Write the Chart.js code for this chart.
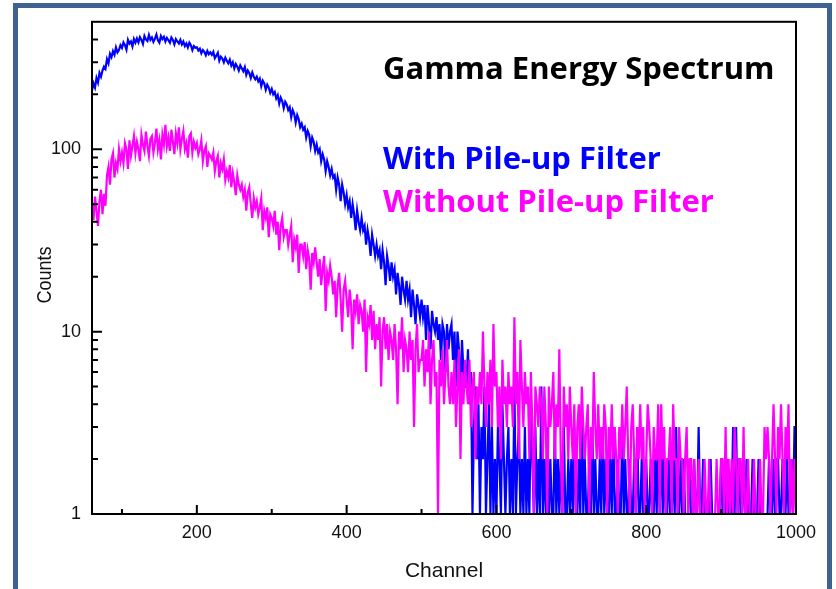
<!DOCTYPE html>
<html>
<head>
<meta charset="utf-8">
<script src="https://cdn.jsdelivr.net/npm/chart.js@4/dist/chart.umd.min.js"></script>
<style>
  html, body { margin: 0; padding: 0; background: #fff; }
  #wrap { position: relative; width: 836px; height: 589px; overflow: hidden; }
  #frame { position: absolute; left: 13px; top: 3px; width: 809px; height: 700px; border: 5px solid #3f6390; box-sizing: content-box; }
  #chart { position: absolute; left: 0; top: 0; }
</style>
</head>
<body>
<div id="wrap">
  <div id="frame"></div>
  <canvas id="chart" width="836" height="589"></canvas>
</div>
<script>
const chartTitle = 'Gamma Energy Spectrum';
const seriesNames = ['With Pile-up Filter', 'Without Pile-up Filter'];
const xTitle = 'Channel';
const yTitle = 'Counts';
const firstChannel = 60;
const channelStep = 2;

const withFilter = [
  210, 230, 218, 246, 232, 262, 250, 270, 284, 276,
  312, 296, 334, 320, 345, 330, 362, 340, 350, 372,
  360, 385, 372, 352, 398, 380, 390, 366, 402, 384,
  405, 386, 412, 398, 378, 418, 400, 392, 424, 398,
  410, 388, 404, 426, 396, 384, 418, 402, 414, 390,
  408, 396, 384, 410, 398, 376, 402, 390, 380, 398,
  376, 390, 368, 380, 362, 384, 372, 350, 368, 360,
  362, 348, 356, 336, 350, 342, 328, 346, 332, 340,
  330, 342, 316, 326, 338, 306, 322, 314, 300, 318,
  306, 296, 310, 288, 300, 278, 294, 284, 270, 288,
  278, 268, 282, 256, 270, 262, 246, 264, 250, 242,
  250, 236, 244, 222, 238, 230, 212, 226, 218, 204,
  214, 200, 206, 190, 198, 178, 192, 184, 168, 182,
  176, 164, 170, 150, 164, 156, 140, 154, 146, 132,
  138, 128, 132, 116, 126, 120, 104, 116, 110, 98,
  106, 96, 100, 86, 94, 88, 76, 86, 80, 72,
  78, 70, 72, 60, 70, 64, 52, 64, 58, 50,
  56, 48, 52, 42, 50, 44, 36, 46, 40, 36,
  42, 36, 38, 30, 36, 32, 26, 34, 30, 26,
  30, 26, 28, 22, 28, 24, 18, 26, 23, 19,
  24, 20, 22, 16, 21, 18, 14, 20, 17, 15,
  19, 15, 17, 12, 17, 14, 11, 16, 14, 12,
  15, 12, 14, 9, 14, 11, 8, 13, 11, 10,
  12, 9, 11, 7, 11, 10, 6, 11, 8, 10,
  11, 7, 10, 5, 10, 8, 4, 9, 6, 5,
  5, 8, 4, 6, 1, 3, 5, 2, 4, 1,
  3, 2, 5, 1, 2, 4, 1, 3, 1, 2,
  1, 3, 2, 1, 4, 2, 1, 2, 3, 1,
  2, 1, 5, 1, 2, 3, 1, 2, 1, 3,
  1, 2, 1, 4, 2, 1, 3, 1, 2, 1,
  5, 1, 2, 1, 3, 1, 2, 1, 1, 3,
  1, 2, 1, 2, 1, 3, 1, 1, 2, 1,
  2, 1, 3, 1, 1, 2, 1, 4, 1, 2,
  1, 1, 2, 1, 3, 1, 2, 1, 1, 2,
  1, 3, 1, 2, 1, 1, 2, 1, 3, 1,
  1, 2, 1, 1, 3, 1, 2, 1, 1, 2,
  1, 1, 2, 1, 3, 1, 1, 2, 1, 1,
  2, 1, 1, 2, 1, 1, 2, 1, 3, 1,
  3, 1, 2, 1, 1, 2, 1, 1, 2, 1,
  3, 1, 1, 2, 1, 2, 1, 1, 1, 2,
  1, 1, 2, 1, 1, 3, 1, 1, 2, 1,
  1, 1, 1, 2, 1, 1, 1, 1, 1, 1,
  2, 1, 1, 1, 2, 1, 1, 1, 3, 1,
  3, 1, 2, 1, 1, 2, 1, 2, 1, 1,
  1, 2, 1, 1, 1, 2, 1, 1, 1, 1,
  1, 1, 2, 1, 1, 2, 1, 2, 2, 1,
  1, 2, 1, 1, 2, 1, 1, 2, 1, 3,
  3
];

const withoutFilter = [
  50, 41, 55, 46, 38, 52, 60, 44, 57, 49,
  72, 80, 64, 88, 95, 70, 84, 78, 100, 86,
  96, 84, 108, 100, 78, 112, 92, 104, 118, 95,
  110, 100, 86, 120, 106, 98, 125, 104, 92, 114,
  118, 96, 108, 130, 100, 112, 88, 120, 106, 136,
  104, 116, 98, 128, 110, 94, 122, 108, 132, 100,
  114, 126, 100, 108, 90, 118, 122, 96, 110, 102,
  108, 94, 100, 112, 86, 98, 104, 80, 95, 92,
  88, 96, 76, 86, 92, 70, 84, 78, 88, 68,
  76, 70, 82, 62, 74, 66, 56, 72, 64, 60,
  64, 55, 60, 46, 58, 62, 50, 42, 54, 48,
  52, 44, 48, 54, 36, 46, 42, 48, 33, 44,
  42, 38, 46, 34, 40, 28, 38, 42, 33, 36,
  36, 30, 34, 38, 24, 32, 29, 34, 21, 30,
  30, 26, 31, 22, 28, 25, 17, 27, 24, 29,
  24, 20, 25, 18, 22, 26, 13, 21, 19, 23,
  20, 16, 19, 12, 18, 21, 15, 10, 17, 19,
  15, 12, 17, 14, 8, 15, 13, 16, 11, 14,
  13, 10, 15, 6, 12, 11, 14, 9, 13, 8,
  11, 9, 12, 5, 10, 12, 8, 11, 7, 10,
  9, 7, 11, 8, 4, 10, 8, 12, 6, 9,
  8, 6, 10, 7, 9, 3, 8, 11, 6, 7,
  7, 9, 5, 8, 6, 10, 4, 7, 9, 5,
  6, 1, 7, 5, 8, 4, 6, 9, 5, 4,
  6, 4, 7, 3, 5, 8, 2, 6, 4, 7,
  5, 4, 7, 3, 5, 6, 2, 5, 4, 6,
  4, 10, 5, 3, 6, 4, 7, 3, 11, 5,
  6, 3, 5, 2, 7, 4, 5, 3, 6, 4,
  5, 3, 12, 4, 6, 2, 9, 5, 3, 6,
  4, 5, 2, 6, 3, 1, 5, 4, 3, 5,
  4, 2, 5, 3, 1, 5, 3, 4, 6, 2,
  4, 3, 8, 2, 1, 5, 3, 4, 2, 5,
  3, 2, 4, 1, 3, 4, 2, 5, 3, 2,
  3, 4, 1, 3, 2, 6, 3, 2, 4, 2,
  3, 2, 4, 3, 1, 3, 2, 4, 2, 3,
  2, 1, 3, 2, 4, 2, 3, 5, 2, 1,
  3, 4, 2, 1, 3, 2, 4, 2, 3, 1,
  2, 4, 3, 2, 1, 3, 2, 2, 4, 1,
  4, 2, 3, 1, 2, 2, 3, 1, 4, 2,
  2, 1, 3, 2, 2, 1, 2, 3, 1, 2,
  2, 1, 2, 1, 1, 2, 1, 1, 1, 2,
  1, 1, 2, 1, 1, 1, 1, 2, 1, 1,
  2, 2, 1, 3, 1, 2, 1, 2, 1, 3,
  2, 1, 2, 2, 1, 3, 1, 1, 2, 1,
  1, 1, 2, 1, 1, 1, 2, 1, 1, 3,
  2, 3, 2, 1, 2, 4, 2, 1, 3, 2,
  4, 2, 1, 3, 2, 4, 1, 2, 1, 2,
  1
];

const xTickLabels = [200, 400, 600, 800, 1000];
const xMinorTicks = [100, 300, 500, 700, 900];
const yTickLabels = [1, 10, 100];
const yMinorTicks = [2, 3, 4, 5, 6, 7, 8, 9, 20, 30, 40, 50, 60, 70, 80, 90, 200, 300, 400];

const channels = withFilter.map((v, i) => firstChannel + i * channelStep);
const toPoints = arr => arr.map((c, i) => ({ x: channels[i], y: c }));

const axisFont = { family: 'Liberation Sans', size: 18 };

// cadre noir + petites graduations vers l'intérieur + textes
const framePlugin = {
  id: 'framePlugin',
  afterDraw(chart) {
    const { ctx, chartArea: a, scales: { x, y } } = chart;
    ctx.save();
    ctx.strokeStyle = '#000';
    ctx.lineWidth = 2;
    ctx.strokeRect(a.left, a.top, a.right - a.left, a.bottom - a.top);
    ctx.beginPath();
    xTickLabels.forEach(v => { const p = x.getPixelForValue(v); ctx.moveTo(p, a.bottom); ctx.lineTo(p, a.bottom - 9); });
    xMinorTicks.forEach(v => { const p = x.getPixelForValue(v); ctx.moveTo(p, a.bottom); ctx.lineTo(p, a.bottom - 5); });
    yTickLabels.forEach(v => { const p = y.getPixelForValue(v); ctx.moveTo(a.left, p); ctx.lineTo(a.left + 10, p); });
    yMinorTicks.forEach(v => { const p = y.getPixelForValue(v); ctx.moveTo(a.left, p); ctx.lineTo(a.left + 6, p); });
    ctx.stroke();

    // titre de l'axe Y (un peu tassé comme sur l'original)
    ctx.save();
    ctx.translate(45, 275);
    ctx.rotate(-Math.PI / 2);
    ctx.scale(0.86, 1);
    ctx.font = '21px "Liberation Sans"';
    ctx.fillStyle = '#111';
    ctx.textAlign = 'center';
    ctx.textBaseline = 'middle';
    ctx.fillText(yTitle, 0, 0);
    ctx.restore();

    ctx.textAlign = 'left';
    ctx.textBaseline = 'alphabetic';
    ctx.font = 'bold 31px "Open Sans"';
    ctx.fillStyle = '#000';
    ctx.fillText(chartTitle, 383, 79);
    ctx.fillStyle = '#0000ff';
    ctx.fillText(seriesNames[0], 383, 169);
    ctx.fillStyle = '#ff00ff';
    ctx.fillText(seriesNames[1], 383, 212);
    ctx.restore();
  }
};

new Chart(document.getElementById('chart'), {
  type: 'line',
  data: {
    datasets: [
      { label: seriesNames[0], data: toPoints(withFilter), borderColor: '#0000ff', borderWidth: 2.2, pointRadius: 0, order: 2 },
      { label: seriesNames[1], data: toPoints(withoutFilter), borderColor: '#ff00ff', borderWidth: 2.2, pointRadius: 0, order: 1 }
    ]
  },
  options: {
    responsive: false,
    animation: false,
    layout: { padding: { top: 21, right: 40, bottom: 0, left: 0 } },
    plugins: { legend: { display: false }, tooltip: { enabled: false } },
    scales: {
      x: {
        type: 'linear',
        min: 60,
        max: 1000,
        grid: { display: false, drawTicks: false },
        border: { display: false },
        afterBuildTicks: s => { s.ticks = xTickLabels.map(v => ({ value: v })); },
        afterFit: s => { s.height = 75; },
        ticks: { font: axisFont, color: '#111', padding: 8, maxRotation: 0, callback: v => String(v) },
        title: { display: true, text: xTitle, font: { family: 'Liberation Sans', size: 21 }, color: '#111', padding: { bottom: 5 } }
      },
      y: {
        type: 'logarithmic',
        min: 1,
        max: 500,
        grid: { display: false, drawTicks: false },
        border: { display: false },
        afterBuildTicks: s => { s.ticks = yTickLabels.map(v => ({ value: v })); },
        afterFit: s => { s.width = 92; },
        ticks: { font: axisFont, color: '#111', padding: 11, callback: v => String(v) }
      }
    }
  },
  plugins: [framePlugin]
});
</script>
</body>
</html>
